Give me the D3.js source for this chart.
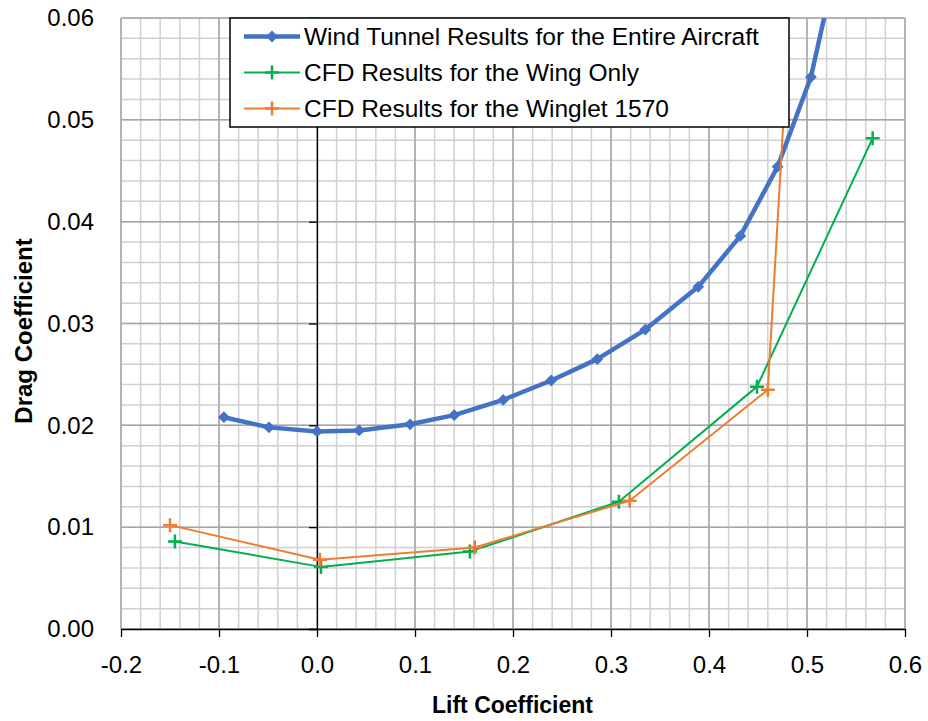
<!DOCTYPE html>
<html>
<head>
<meta charset="utf-8">
<script src="https://cdn.jsdelivr.net/npm/d3@7"></script>
<style>
  body { margin: 0; background: #fff; }
  text { font-family: "Liberation Sans", Arial, sans-serif; fill: #000; }
</style>
</head>
<body>
<div id="chart-area"></div>
<script>
// values
const xTicks = [-0.2, -0.1, 0.0, 0.1, 0.2, 0.3, 0.4, 0.5, 0.6]
const yTicks = [0.00, 0.01, 0.02, 0.03, 0.04, 0.05, 0.06]

// wind tunnel, entire aircraft
const windCL = [-0.095, -0.049, 0.000, 0.043, 0.095, 0.140, 0.190, 0.239, 0.286, 0.335, 0.389, 0.432, 0.470, 0.504, 0.536]
const windCD = [0.0208, 0.0198, 0.0194, 0.0195, 0.0201, 0.0210, 0.0225, 0.0244, 0.0265, 0.0294, 0.0336, 0.0386, 0.0454, 0.0542, 0.0680]

// CFD, wing only
const wingCL = [-0.145, 0.004, 0.156, 0.308, 0.449, 0.567]
const wingCD = [0.0086, 0.0061, 0.0076, 0.0125, 0.0238, 0.0482]

// CFD, winglet 1570 (last points sit behind the legend / above the axis)
const wingletCL = [-0.150, 0.003, 0.161, 0.319, 0.460, 0.476, 0.486]
const wingletCD = [0.0102, 0.0068, 0.0080, 0.0126, 0.0235, 0.0500, 0.0700]

const seriesNames = [
    "Wind Tunnel Results for the Entire Aircraft",
    "CFD Results for the Wing Only",
    "CFD Results for the Winglet 1570"
]

const MARGIN = { LEFT: 121, RIGHT: 23, TOP: 18, BOTTOM: 92 }
const WIDTH = 928 - MARGIN.LEFT - MARGIN.RIGHT
const HEIGHT = 721 - MARGIN.TOP - MARGIN.BOTTOM

const svg = d3.select("#chart-area").append("svg")
    .attr("width", 928)
    .attr("height", 721)

const g = svg.append("g")
    .attr("transform", `translate(${MARGIN.LEFT}, ${MARGIN.TOP})`)

// scales
const x = d3.scaleLinear().domain([-0.2, 0.6]).range([0, WIDTH])
const y = d3.scaleLinear().domain([0, 0.06]).range([HEIGHT, 0])

// minor + major gridlines
const xMinor = d3.range(0, 41).map(i => -0.2 + i * 0.02)
const yMinor = d3.range(0, 31).map(i => i * 0.002)

g.append("g").selectAll("line")
    .data(xMinor)
    .join("line")
    .attr("x1", d => x(d)).attr("x2", d => x(d))
    .attr("y1", 0).attr("y2", HEIGHT)
    .attr("stroke", "#d0d0d0")
    .attr("stroke-width", 1.5)

g.append("g").selectAll("line")
    .data(yMinor)
    .join("line")
    .attr("x1", 0).attr("x2", WIDTH)
    .attr("y1", d => y(d)).attr("y2", d => y(d))
    .attr("stroke", "#d0d0d0")
    .attr("stroke-width", 1.5)

g.append("g").selectAll("line")
    .data(xTicks)
    .join("line")
    .attr("x1", d => x(d)).attr("x2", d => x(d))
    .attr("y1", 0).attr("y2", HEIGHT)
    .attr("stroke", "#a6a6a6")
    .attr("stroke-width", 1.5)

g.append("g").selectAll("line")
    .data(yTicks)
    .join("line")
    .attr("x1", 0).attr("x2", WIDTH)
    .attr("y1", d => y(d)).attr("y2", d => y(d))
    .attr("stroke", "#a6a6a6")
    .attr("stroke-width", 1.5)

// y axis sits at CL = 0, labels stay at the left edge
const yAxisLine = g.append("g")
    .attr("transform", `translate(${x(0)}, 0)`)
    .call(d3.axisLeft(y).tickValues(yTicks).tickSize(8).tickFormat(""))
yAxisLine.selectAll("path, line").attr("stroke", "#000").attr("stroke-width", 1.3)

const yLabels = g.append("g")
    .call(d3.axisLeft(y).tickValues(yTicks).tickSize(0).tickPadding(27)
        .tickFormat(d => d.toFixed(2)))
yLabels.select(".domain").remove()
yLabels.selectAll("text")
    .attr("font-family", "Liberation Sans")
    .attr("font-size", "24px")

const xAxis = g.append("g")
    .attr("transform", `translate(0, ${HEIGHT})`)
    .call(d3.axisBottom(x).tickValues(xTicks).tickSize(8).tickPadding(19)
        .tickSizeOuter(0)
        .tickFormat(d => d.toFixed(1)))
xAxis.selectAll("path, line").attr("stroke", "#000").attr("stroke-width", 1.3)
xAxis.selectAll("text")
    .attr("font-family", "Liberation Sans")
    .attr("font-size", "24px")

// axis titles
g.append("text")
    .attr("x", WIDTH / 2 - 0.5)
    .attr("y", HEIGHT + 84)
    .attr("text-anchor", "middle")
    .attr("font-size", "23px")
    .attr("font-weight", "bold")
    .text("Lift Coefficient")

g.append("text")
    .attr("transform", "rotate(-90)")
    .attr("x", -(331 - MARGIN.TOP))
    .attr("y", -MARGIN.LEFT + 32)
    .attr("text-anchor", "middle")
    .attr("font-size", "24px")
    .attr("font-weight", "bold")
    .text("Drag Coefficient")

// clip data to the plot area
svg.append("defs").append("clipPath")
    .attr("id", "plot-clip")
    .append("rect")
    .attr("width", WIDTH)
    .attr("height", HEIGHT)

const plot = g.append("g").attr("clip-path", "url(#plot-clip)")

const line = d3.line()
    .x(d => x(d[0]))
    .y(d => y(d[1]))

const diamond = d3.symbol().type(d3.symbolSquare).size(70)
const plus = "M-7,0H7M0,-7V7"

const series = [
    { name: seriesNames[0], pts: d3.zip(windCL, windCD), color: "#4472C4", width: 4.5, marker: "diamond" },
    { name: seriesNames[1], pts: d3.zip(wingCL, wingCD), color: "#00B050", width: 2, marker: "plus" },
    { name: seriesNames[2], pts: d3.zip(wingletCL, wingletCD), color: "#ED7D31", width: 2, marker: "plus" }
]

series.forEach(s => {
    plot.append("path")
        .attr("d", line(s.pts))
        .attr("fill", "none")
        .attr("stroke", s.color)
        .attr("stroke-width", s.width)
        .attr("stroke-linejoin", "round")

    const marks = plot.append("g").selectAll("path")
        .data(s.pts)
        .join("path")
        .attr("transform", d => s.marker === "diamond"
            ? `translate(${x(d[0])}, ${y(d[1])}) rotate(45)`
            : `translate(${x(d[0])}, ${y(d[1])})`)

    if (s.marker === "diamond") {
        marks.attr("d", diamond).attr("fill", s.color)
    } else {
        marks.attr("d", plus).attr("fill", "none")
            .attr("stroke", s.color).attr("stroke-width", 2.5)
    }
})

// legend
const legend = svg.append("g")
    .attr("transform", "translate(230, 18)")

legend.append("rect")
    .attr("width", 559)
    .attr("height", 109)
    .attr("fill", "#fff")
    .attr("stroke", "#000")
    .attr("stroke-width", 1.5)

series.forEach((s, i) => {
    const row = legend.append("g")
        .attr("transform", `translate(0, ${18.5 + i * 36})`)

    row.append("line")
        .attr("x1", 14).attr("x2", 70)
        .attr("stroke", s.color)
        .attr("stroke-width", s.width)

    if (s.marker === "diamond") {
        row.append("path")
            .attr("d", diamond)
            .attr("transform", "translate(42, 0) rotate(45)")
            .attr("fill", s.color)
    } else {
        row.append("path")
            .attr("d", plus)
            .attr("transform", "translate(42, 0)")
            .attr("stroke", s.color)
            .attr("stroke-width", 2.5)
    }

    row.append("text")
        .attr("x", 74)
        .attr("y", 8.5)
        .attr("font-size", "24.5px")
        .text(s.name)
})
</script>
</body>
</html>
